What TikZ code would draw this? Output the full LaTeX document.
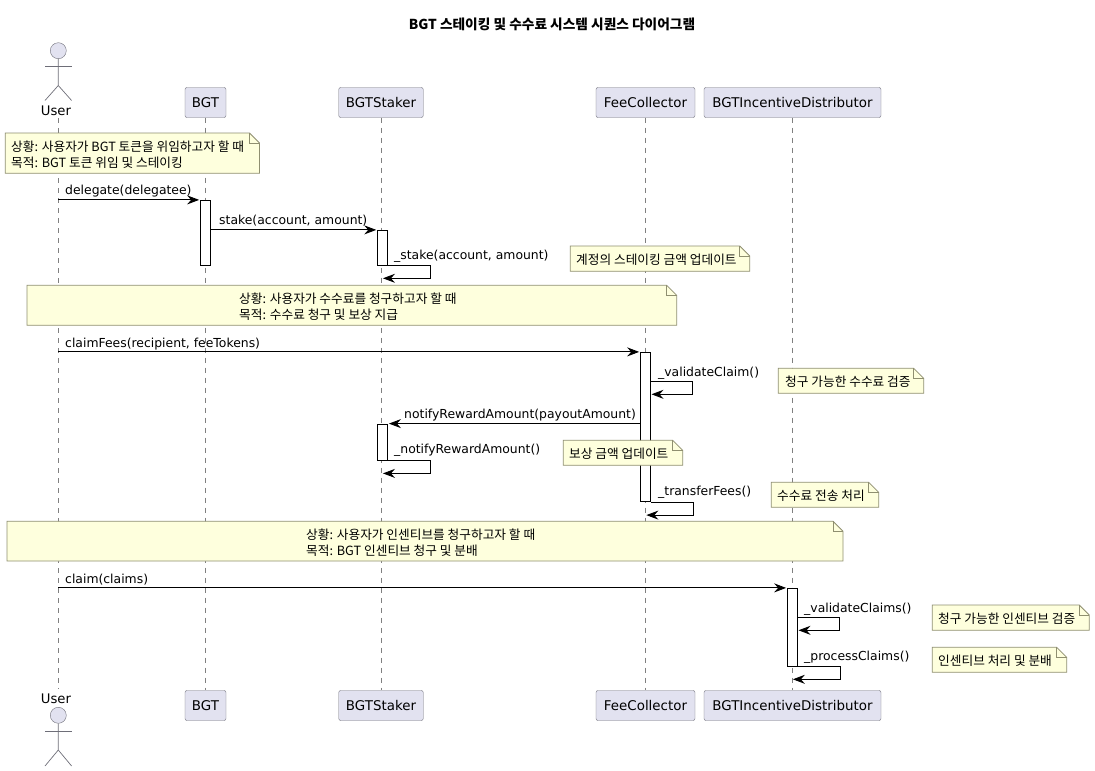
\documentclass[tikz,border=0pt]{standalone}
\usepackage{fontspec}
\setmainfont{DejaVu Sans}
\newfontfamily\kr{Noto Sans CJK KR}
\usetikzlibrary{arrows.meta}
\definecolor{partfill}{HTML}{E2E2F0}
\definecolor{partline}{HTML}{6E6E78}
\definecolor{notefill}{HTML}{FEFFDD}
\definecolor{noteline}{HTML}{8F8F70}
\tikzset{
  part/.style={shape=rectangle, rounded corners=2pt, draw=partline, fill=partfill, minimum height=30pt, inner sep=0pt, font=\fontsize{13.4}{15}\selectfont},
  actorname/.style={inner sep=0pt, font=\fontsize{13.2}{16}\selectfont},
  actorhead/.style={shape=circle, draw=partline, fill=partfill, minimum size=16pt, inner sep=0pt},
  life/.style={draw=gray, dash pattern=on 5pt off 5pt, line width=0.7pt},
  bar/.style={shape=rectangle, draw=black, fill=white, minimum width=10.5pt, inner sep=0pt, line width=0.8pt},
  msg/.style={draw=black, line width=0.9pt, shorten >=0.7pt, -{Stealth[length=12pt, width=9pt, inset=4pt]}},
  msglabel/.style={anchor=west, inner sep=0pt, yshift=-1pt, font=\fontsize{12.4}{14}\selectfont},
  notetext/.style={anchor=west, inner sep=0pt, align=left, font=\kr\fontsize{12.7}{16}\selectfont},
  stick/.style={draw=partline, line width=0.7pt},
}
\newcommand{\notepaper}[4]{%
  \draw[draw=noteline, fill=notefill, line width=0.8pt] (#1,#2) -- ({#3-10},#2) -- (#3,{#2+10}) -- (#3,#4) -- (#1,#4) -- cycle;
  \draw[draw=noteline, line width=0.8pt] ({#3-10},#2) -- ({#3-10},{#2+10}) -- (#3,{#2+10});
}
\begin{document}
\begin{tikzpicture}[x=1pt, y=-1pt]
\useasboundingbox (0,0) rectangle (1095,771);
\node[inner sep=0pt, font=\kr\bfseries\fontsize{13.7}{15}\selectfont] (title) at (552,24) {BGT 스테이킹 및 수수료 시스템 시퀀스 다이어그램};
% participants top
\node[actorname] (user) at (56,110.5) {User};
\node[part, minimum width=41pt] (bgt) at (205.5,102.5) {BGT};
\node[part, minimum width=84.5pt] (staker) at (381,102.5) {BGTStaker};
\node[part, minimum width=99pt] (fee) at (645.5,102.5) {FeeCollector};
\node[part, minimum width=177pt] (dist) at (792.5,102.5) {BGTIncentiveDistributor};
% participants bottom
\node[actorname] (userb) at (56,698.5) {User};
\node[part, minimum width=41pt] (bgtb) at (205.5,705.5) {BGT};
\node[part, minimum width=84.5pt] (stakerb) at (381,705.5) {BGTStaker};
\node[part, minimum width=99pt] (feeb) at (645.5,705.5) {FeeCollector};
\node[part, minimum width=177pt] (distb) at (792.5,705.5) {BGTIncentiveDistributor};
% lifelines
\coordinate (usertop) at (58.3,118);
\coordinate (userbot) at (58.3,689);
\draw[life] (usertop) -- (userbot);
\draw[life] (bgt) -- (bgtb);
\draw[life] (staker) -- (stakerb);
\draw[life] (fee) -- (feeb);
\draw[life] (dist) -- (distb);
% actors
\node[actorhead] (head) at (58.3,50.7) {};
\coordinate (hip) at (58.3,85.5);
\coordinate (footl) at (45,100.5);
\coordinate (footr) at (71.6,100.5);
\coordinate (arml) at (45,66);
\coordinate (armr) at (71.6,66);
\draw[stick] (head) -- (hip) -- (footl);
\draw[stick] (hip) -- (footr);
\draw[stick] (arml) -- (armr);
\node[actorhead] (headb) at (58.3,715.3) {};
\coordinate (hipb) at (58.3,750);
\coordinate (footlb) at (45,766);
\coordinate (footrb) at (71.6,766);
\coordinate (armlb) at (45,731.3);
\coordinate (armrb) at (71.6,731.3);
\draw[stick] (headb) -- (hipb) -- (footlb);
\draw[stick] (hipb) -- (footrb);
\draw[stick] (armlb) -- (armrb);
% activation bars
\node[bar, minimum height=65pt] (barbgt) at (205.5,232.8) {};
\node[bar, minimum height=35pt] (barstakera) at (382.6,247.8) {};
\node[bar, minimum height=149.4pt] (barfee) at (645.5,427) {};
\node[bar, minimum height=36pt] (barstakerb) at (382.6,442) {};
\node[bar, minimum height=78pt] (bardist) at (792.5,627.3) {};
% notes
\notepaper{5.3}{133}{259.5}{173.3}
\node[notetext] (n1) at (11,154.5) {상황: 사용자가 BGT 토큰을 위임하고자 할 때\\목적: BGT 토큰 위임 및 스테이킹};
\notepaper{27}{285.3}{676.7}{325.3}
\node[notetext] (n2) at (239,306.5) {상황: 사용자가 수수료를 청구하고자 할 때\\목적: 수수료 청구 및 보상 지급};
\notepaper{570.3}{246}{749.7}{271.3}
\node[notetext] (n3) at (576,259.5) {계정의 스테이킹 금액 업데이트};
\notepaper{778.3}{368.3}{923.7}{393.3}
\node[notetext] (n4) at (785,382) {청구 가능한 수수료 검증};
\notepaper{563.3}{440.3}{682.7}{465.3}
\node[notetext] (n5) at (569,454) {보상 금액 업데이트};
\notepaper{771.3}{482.3}{878.7}{507.3}
\node[notetext] (n6) at (777,496) {수수료 전송 처리};
\notepaper{7}{521.3}{843}{561}
\node[notetext] (n7) at (306,542.5) {상황: 사용자가 인센티브를 청구하고자 할 때\\목적: BGT 인센티브 청구 및 분배};
\notepaper{932.3}{605}{1089.3}{630.3}
\node[notetext] (n8) at (938,619) {청구 가능한 인센티브 검증};
\notepaper{932.3}{647.3}{1066.7}{672.3}
\node[notetext] (n9) at (938,661) {인센티브 처리 및 분배};
% self message corners
\coordinate (vca) at (650.8,381.3);
\coordinate (vcb) at (692.7,381.3);
\coordinate (vcc) at (692.7,394.3);
\coordinate (vcd) at (650.8,394.3);
\coordinate (vsa) at (797.8,617.3);
\coordinate (vsb) at (839.7,617.3);
\coordinate (vsc) at (839.7,630.3);
\coordinate (vsd) at (797.8,630.3);
% messages
\draw[msg] (usertop |- barbgt.north) -- (barbgt.north west);
\node[msglabel] (m1) at (65,190) {delegate(delegatee)};
\draw[msg] (barbgt.east |- barstakera.north) -- (barstakera.north west);
\node[msglabel] (m2) at (219,220) {stake(account, amount)};
\draw[msg] (barstakera.south east) -- ++(42,0) -- ++(0,12.6) -- ++(-48,0);
\node[msglabel] (m3) at (394,255.5) {\_stake(account, amount)};
\draw[msg] (usertop |- barfee.north) -- (barfee.north west);
\node[msglabel] (m4) at (65,343) {claimFees(recipient, feeTokens)};
\draw[msg] (vca) -- (vcb) -- (vcc) -- (vcd);
\node[msglabel] (m5) at (658,372) {\_validateClaim()};
\draw[msg] (barfee.west |- barstakerb.north) -- (barstakerb.north east);
\node[msglabel] (m6) at (404,414.5) {notifyRewardAmount(payoutAmount)};
\draw[msg] (barstakerb.south east) -- ++(42,0) -- ++(0,13) -- ++(-48,0);
\node[msglabel] (m7) at (394,449.5) {\_notifyRewardAmount()};
\draw[msg] (barfee.south east) -- ++(42,0) -- ++(0,13) -- ++(-47.5,0);
\node[msglabel] (m8) at (658,491.5) {\_transferFees()};
\draw[msg] (usertop |- bardist.north) -- (bardist.north west);
\node[msglabel] (m9) at (65,579) {claim(claims)};
\draw[msg] (vsa) -- (vsb) -- (vsc) -- (vsd);
\node[msglabel] (m10) at (804,608) {\_validateClaims()};
\draw[msg] (bardist.south east) -- ++(42,0) -- ++(0,12.6) -- ++(-48,0);
\node[msglabel] (m11) at (804,656) {\_processClaims()};
\end{tikzpicture}
\end{document}
